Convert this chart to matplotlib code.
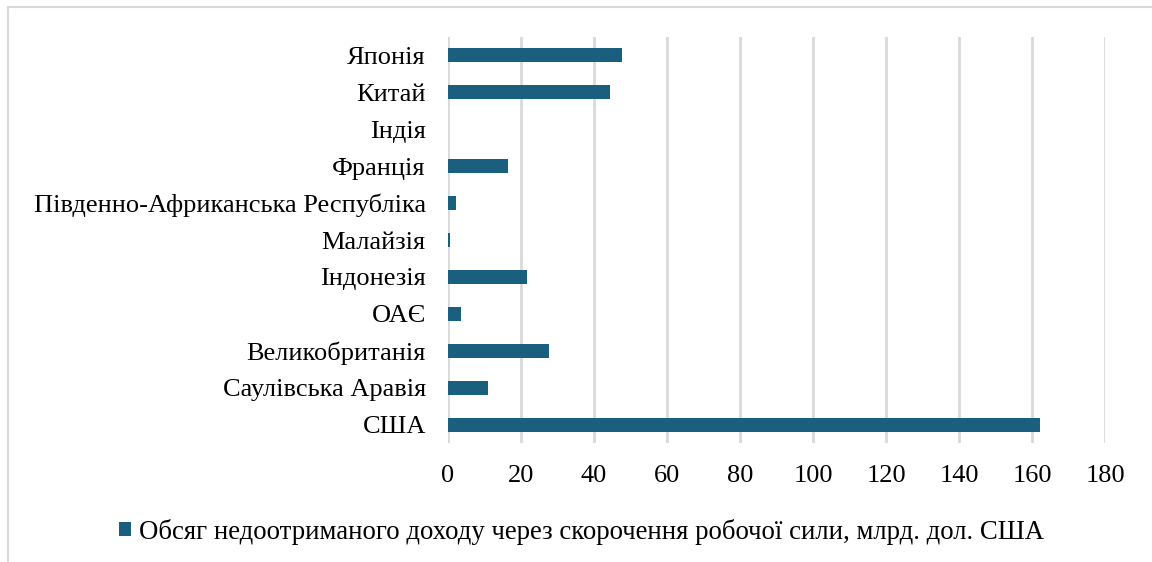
import matplotlib.pyplot as plt
from matplotlib.patches import Rectangle

plt.rcParams['font.family'] = ['Liberation Serif', 'DejaVu Serif']

countries = ['США', 'Саулівська Аравія', 'Великобританія', 'ОАЄ', 'Індонезія',
             'Малайзія', 'Південно-Африканська Республіка', 'Франція', 'Індія',
             'Китай', 'Японія']
values = [162.2, 11.0, 27.6, 3.6, 21.6, 0.5, 2.2, 16.4, 0.0, 44.4, 47.7]
xticks = [0, 20, 40, 60, 80, 100, 120, 140, 160, 180]
legend_label = 'Обсяг недоотриманого доходу через скорочення робочої сили, млрд. дол. США'

bar_color = '#1B5F7E'

fig = plt.figure(figsize=(11.52, 5.62), dpi=100)
ax = fig.add_axes([0.3889, 0.2117, 0.5703, 0.7225])

ypos = list(range(len(countries)))
ax.barh(ypos, values, height=0.38, color=bar_color, zorder=3, label=legend_label)

ax.set_xlim(0, 180)
ax.set_ylim(-0.5, len(countries) - 0.5)
ax.set_xticks(xticks)
ax.set_yticks(ypos)
ax.set_yticklabels(countries)
ax.tick_params(axis='both', length=0, labelsize=19, colors='black')
ax.tick_params(axis='x', pad=16)
ax.tick_params(axis='y', pad=16)
ax.grid(axis='x', color='#D9D9D9', linewidth=2, zorder=0)
for s in ax.spines.values():
    s.set_visible(False)

ax.legend(loc='center', bbox_to_anchor=(0.505, 0.054), bbox_transform=fig.transFigure,
          frameon=False, fontsize=19.3, handlelength=0.45, handleheight=0.45,
          handletextpad=0.3)

# outer chart border
fig.patches.append(Rectangle((8 / 1152, -0.1), 1.2, 1.1 - 7 / 562,
                             transform=fig.transFigure, fill=False,
                             edgecolor='#D9D9D9', linewidth=1.5))

fig.savefig('out.png', dpi=100)
